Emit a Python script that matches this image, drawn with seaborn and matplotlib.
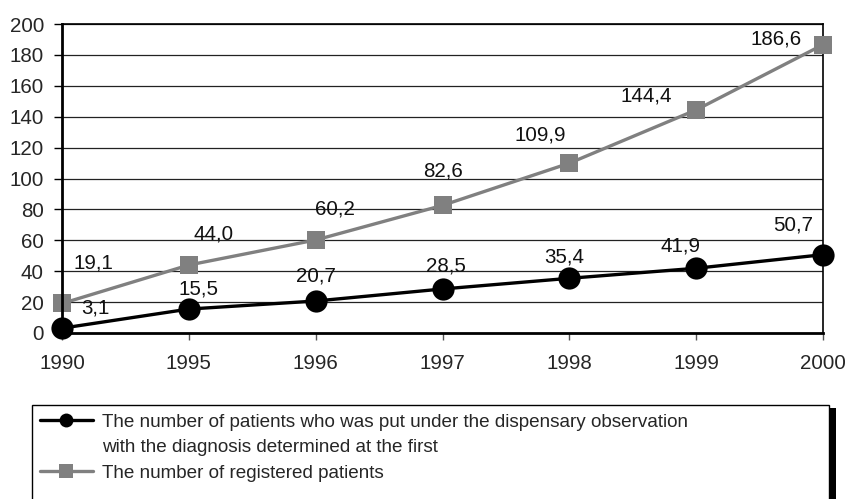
import matplotlib
matplotlib.use("Agg")
import matplotlib.pyplot as plt
import seaborn as sns
import pandas as pd
from matplotlib.lines import Line2D
from matplotlib.patches import Rectangle

years = ["1990", "1995", "1996", "1997", "1998", "1999", "2000"]
first_diag = [3.1, 15.5, 20.7, 28.5, 35.4, 41.9, 50.7]
registered = [19.1, 44.0, 60.2, 82.6, 109.9, 144.4, 186.6]
first_labels = ["3,1", "15,5", "20,7", "28,5", "35,4", "41,9", "50,7"]
reg_labels = ["19,1", "44,0", "60,2", "82,6", "109,9", "144,4", "186,6"]
legend_first = ("The number of patients who was put under the dispensary observation\n"
                "with the diagnosis determined at the first")
legend_reg = "The number of registered patients"

# label offsets (pixels) - style
first_off = [(33, 20), (10, 20), (0, 25), (3, 23), (-5, 21), (-16, 22), (-30, 30)]
reg_off = [(31, 40), (25, 31), (19, 31), (0, 34), (-29, 28), (-50, 14), (-47, 6)]

sns.set_style("white")
plt.rcParams['font.family'] = ['Liberation Sans', 'DejaVu Sans']

df1 = pd.DataFrame({"year": years, "value": first_diag})
df2 = pd.DataFrame({"year": years, "value": registered})

fig = plt.figure(figsize=(8.48, 4.99), dpi=100)
W, H = 848, 499
ax = fig.add_axes([62 / W, 1 - 333 / H, (823 - 62) / W, (333 - 24) / H])

BLACK = "#000000"
GRAY = "#808080"
FS = 14.8

ax.set_ylim(0, 200)
ax.set_yticks(range(0, 201, 20))
for y in range(20, 201, 20):
    ax.axhline(y, color="#222222", lw=0.9, zorder=0)

sns.lineplot(data=df2, x="year", y="value", ax=ax, color=GRAY, lw=2.4,
             marker="s", markersize=13, markeredgewidth=0, markerfacecolor=GRAY,
             sort=False, zorder=3, clip_on=False)
sns.lineplot(data=df1, x="year", y="value", ax=ax, color=BLACK, lw=2.4,
             marker="o", markersize=16, markeredgewidth=0, markerfacecolor=BLACK,
             sort=False, zorder=4, clip_on=False)
ax.set_xlim(0, len(years) - 1)

for i, (v, lab) in enumerate(zip(first_diag, first_labels)):
    ax.annotate(lab, (i, v), xytext=first_off[i], textcoords="offset pixels",
                ha="center", va="center", fontsize=FS, color="#111111", zorder=6)
for i, (v, lab) in enumerate(zip(registered, reg_labels)):
    ax.annotate(lab, (i, v), xytext=reg_off[i], textcoords="offset pixels",
                ha="center", va="center", fontsize=FS, color="#111111", zorder=6)

ax.set_xlabel("")
ax.set_ylabel("")
for side in ["left", "bottom"]:
    ax.spines[side].set_linewidth(2.0)
    ax.spines[side].set_color(BLACK)
for side in ["top", "right"]:
    ax.spines[side].set_linewidth(1.2)
    ax.spines[side].set_color(BLACK)
    ax.spines[side].set_visible(True)
ax.spines["left"].set_zorder(5)
ax.spines["bottom"].set_zorder(5)

ax.tick_params(axis="x", which="both", direction="out", length=5, width=1,
               color="#555555", pad=10, labelsize=FS, bottom=True)
ax.tick_params(axis="y", which="both", direction="out", length=6, width=1,
               color=BLACK, pad=7, labelsize=FS, left=True)

# legend box with shadow
box = Rectangle((32 / W, 1 - 540 / H), (829 - 32) / W, (540 - 405) / H,
                transform=fig.transFigure, facecolor="white", edgecolor=BLACK,
                lw=1.0, zorder=2, clip_on=False)
shadow = Rectangle((829 / W, 0), 7 / W, (499 - 408) / H,
                   transform=fig.transFigure, facecolor=BLACK, edgecolor="none",
                   zorder=1)
fig.patches.extend([shadow, box])

line1, line2 = legend_first.split("\n")
handles = [Line2D([], [], color=BLACK, lw=2.4, marker="o", markersize=10,
                  markeredgewidth=0),
           Line2D([], [], color="none", lw=0),
           Line2D([], [], color=GRAY, lw=2.4, marker="s", markersize=10,
                  markeredgewidth=0)]
leg = fig.legend(handles, [line1, line2, legend_reg], loc="upper left",
                 bbox_to_anchor=(36 / W, 1 - 410 / H), frameon=False,
                 fontsize=13.6, handlelength=2.8, handletextpad=0.5,
                 labelspacing=0.43, borderaxespad=0, borderpad=0.2)
leg.set_zorder(3)

fig.savefig("out.png", dpi=100)
